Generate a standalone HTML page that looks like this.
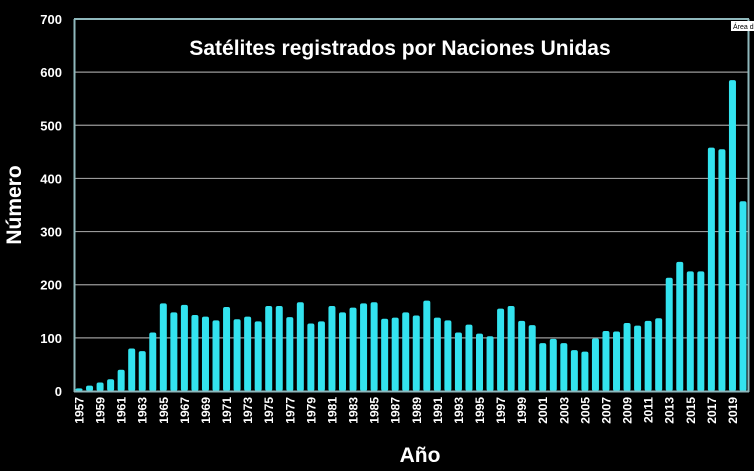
<!DOCTYPE html>
<html><head><meta charset="utf-8"><style>
body{margin:0;background:#000;}
svg{display:block;font-family:"Liberation Sans",sans-serif;}
</style></head><body>
<svg id="chart" width="754" height="471">
<rect width="754" height="471" fill="#000"/>
<g id="grid"></g>
<g id="bars"></g>
<g id="ylabels"></g>
<g id="xlabels"></g>
<line x1="74.5" y1="19" x2="74.5" y2="392" stroke="#8fb8bc" stroke-width="2"/>
<line x1="74" y1="391.5" x2="749" y2="391.5" stroke="#8fb8bc" stroke-width="2"/>
<line x1="74" y1="19" x2="749" y2="19" stroke="#8fb8bc" stroke-width="2"/>
<line x1="748.5" y1="19" x2="748.5" y2="392" stroke="#8fb8bc" stroke-width="2"/>
<text x="400" y="55" text-anchor="middle" fill="#fff" font-size="21" font-weight="bold">Satélites registrados por Naciones Unidas</text>
<rect x="731" y="21" width="23" height="10" fill="#fff"/>
<text x="733" y="29" fill="#000" font-size="7">Área d</text>
<text x="420" y="462" text-anchor="middle" fill="#fff" font-size="21" font-weight="bold">Año</text>
<text transform="translate(21,205) rotate(-90)" text-anchor="middle" fill="#fff" font-size="21" font-weight="bold">Número</text>
</svg>
<script>
const years=[];for(let y=1957;y<=2020;y++)years.push(y);
const values=[5,10,16,22,40,80,75,110,165,148,162,143,140,133,158,135,140,131,160,160,139,167,127,131,160,148,157,165,167,136,138,148,142,170,138,133,110,125,108,103,155,160,132,124,90,98,90,77,74,99,113,112,128,123,132,137,213,243,225,225,458,455,585,357];
const yTicks=[0,100,200,300,400,500,600,700];
const NS="http://www.w3.org/2000/svg";
const x0=79,step=(743-79)/63,yZero=391,yTop=19,yMax=700;
function xs(i){return x0+i*step;}
function ys(v){return yZero-(v/yMax)*(yZero-yTop);}
function mk(t,a,p){const e=document.createElementNS(NS,t);for(const k in a)e.setAttribute(k,a[k]);p.appendChild(e);return e;}
const grid=document.getElementById('grid'),yl=document.getElementById('ylabels');
yTicks.forEach(v=>{
 if(v>0&&v<700){const l=mk('line',{x1:74,x2:748,y1:ys(v),y2:ys(v),stroke:'#9a9a9a','stroke-width':1.2},grid);
 
 }
 const t=mk('text',{x:62,y:ys(v)+5,'text-anchor':'end',fill:'#fff','font-size':13,'font-weight':'bold'},yl);
 t.textContent=v;
 
 
});
const bars=document.getElementById('bars'),xl=document.getElementById('xlabels');
values.forEach((v,i)=>{
 const cx=xs(i),w=7;
 const r=mk('rect',{x:cx-w/2,y:ys(v),width:w,height:yZero-ys(v),rx:2,fill:'#33e3ef'},bars);
 
 
 if(i%2===0){
  const t=mk('text',{transform:'translate('+(cx+4.5)+',397) rotate(-90)','text-anchor':'end',fill:'#fff','font-size':12,'font-weight':'bold'},xl);
  t.textContent=years[i];
  
  
 }
});
</script>
</body></html>
